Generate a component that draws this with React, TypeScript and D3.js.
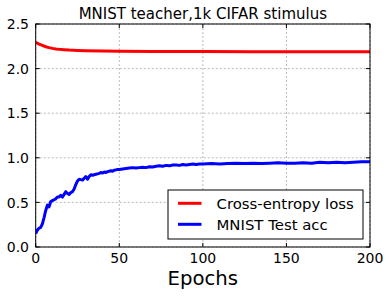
import React from "react";
import * as d3 from "d3";

const title = "MNIST teacher,1k CIFAR stimulus";
const xLabel = "Epochs";
const xTicks = [0, 50, 100, 150, 200];
const yTicks = [0.0, 0.5, 1.0, 1.5, 2.0, 2.5];
const seriesNames = ["Cross-entropy loss", "MNIST Test acc"];
const seriesColors = ["#ff0000", "#0000ff"];

const lossEpochs = [0, 2, 4, 6, 8, 10, 12, 14, 17, 20, 25, 30, 40, 50, 70, 100, 130, 160, 200];
const lossValues = [2.295, 2.275, 2.26, 2.245, 2.235, 2.227, 2.22, 2.216, 2.212, 2.208, 2.204, 2.201, 2.197, 2.195, 2.193, 2.191, 2.19, 2.189, 2.188];

const accEpochs = [
  0, 1, 2, 3, 4, 5, 6, 7, 8, 9, 10, 11, 12, 13, 14, 15, 16, 17, 18, 19, 20, 21, 22, 23, 24, 25, 26, 27, 28, 29,
  30, 31, 32, 33, 34, 35, 36, 37, 38, 39, 40, 41, 42, 43, 44, 45, 46, 47, 48, 49, 50, 52, 54, 56, 58, 60, 62, 64,
  66, 68, 70, 72, 74, 76, 78, 80, 82, 84, 86, 88, 90, 92, 94, 96, 98, 100, 105, 110, 115, 120, 125, 130, 135, 140,
  145, 150, 155, 160, 165, 170, 175, 180, 185, 190, 195, 200,
];
const accValues = [
  0.15, 0.19, 0.21, 0.22, 0.26, 0.33, 0.41, 0.47, 0.45, 0.51, 0.52, 0.53, 0.54, 0.56, 0.56, 0.58, 0.56, 0.59, 0.62, 0.6,
  0.59, 0.61, 0.62, 0.65, 0.7, 0.74, 0.76, 0.755, 0.75, 0.77, 0.79, 0.76, 0.79, 0.81, 0.805, 0.81, 0.815, 0.82, 0.825,
  0.835, 0.83, 0.84, 0.835, 0.845, 0.85, 0.855, 0.85, 0.86, 0.865, 0.87, 0.87, 0.875, 0.88, 0.885, 0.89, 0.885, 0.89,
  0.895, 0.89, 0.9, 0.897, 0.905, 0.91, 0.905, 0.915, 0.91, 0.92, 0.92, 0.915, 0.925, 0.92, 0.925, 0.93, 0.925, 0.93,
  0.93, 0.935, 0.93, 0.935, 0.94, 0.935, 0.94, 0.935, 0.94, 0.945, 0.94, 0.94, 0.945, 0.94, 0.95, 0.945, 0.95, 0.945,
  0.95, 0.955, 0.955,
];

const W = 391;
const H = 297;
const m = { left: 35.7, right: 370, top: 24, bottom: 247 };
const font = "'DejaVu Sans', sans-serif";

export default function App() {
  const x = d3.scaleLinear().domain([0, 200]).range([m.left, m.right]);
  const y = d3.scaleLinear().domain([0, 2.5]).range([m.bottom, m.top]);
  const line = d3
    .line<[number, number]>()
    .x((d) => x(d[0]))
    .y((d) => y(d[1]));
  const lossPath = line(lossEpochs.map((e, i) => [e, lossValues[i]]))!;
  const accPath = line(accEpochs.map((e, i) => [e, accValues[i]]))!;
  const tl = 4;

  return (
    <svg width={W} height={H} style={{ position: "absolute", left: 0, top: 0, background: "#fff" }}>
      <rect x={0} y={0} width={W} height={H} fill="#fff" />
      <defs>
        <clipPath id="plotclip">
          <rect x={m.left} y={m.top} width={m.right - m.left} height={m.bottom - m.top} />
        </clipPath>
      </defs>
      {xTicks.map((t) => (
        <line key={"gx" + t} x1={x(t)} x2={x(t)} y1={m.top} y2={m.bottom} stroke="#a8a8a8" strokeWidth={0.8} strokeDasharray="2,2" />
      ))}
      {yTicks.map((t) => (
        <line key={"gy" + t} x1={m.left} x2={m.right} y1={y(t)} y2={y(t)} stroke="#a8a8a8" strokeWidth={0.8} strokeDasharray="2,2" />
      ))}
      <g clipPath="url(#plotclip)">
        <path d={lossPath} fill="none" stroke={seriesColors[0]} strokeWidth={3} strokeLinejoin="round" />
        <path d={accPath} fill="none" stroke={seriesColors[1]} strokeWidth={3} strokeLinejoin="round" />
      </g>
      <rect x={m.left} y={m.top} width={m.right - m.left} height={m.bottom - m.top} fill="none" stroke="#000" strokeWidth={1} />
      {xTicks.map((t) => (
        <g key={"tx" + t}>
          <line x1={x(t)} x2={x(t)} y1={m.bottom} y2={m.bottom - tl} stroke="#000" />
          <line x1={x(t)} x2={x(t)} y1={m.top} y2={m.top + tl} stroke="#000" />
          <text x={x(t)} y={262.5} textAnchor="middle" fontFamily={font} fontSize={14}>
            {t}
          </text>
        </g>
      ))}
      {yTicks.map((t) => (
        <g key={"ty" + t}>
          <line x1={m.left} x2={m.left + tl} y1={y(t)} y2={y(t)} stroke="#000" />
          <line x1={m.right} x2={m.right - tl} y1={y(t)} y2={y(t)} stroke="#000" />
          <text x={29} y={y(t) + 5.2} textAnchor="end" fontFamily={font} fontSize={14}>
            {t.toFixed(1)}
          </text>
        </g>
      ))}
      <text x={(m.left + m.right) / 2} y={18.5} textAnchor="middle" fontFamily={font} fontSize={15}>
        {title}
      </text>
      <text x={(m.left + m.right) / 2} y={285} textAnchor="middle" fontFamily={font} fontSize={19.7}>
        {xLabel}
      </text>
      <rect x={168} y={190} width={195} height={49} fill="#fff" stroke="#000" strokeWidth={1} />
      {seriesNames.map((n, i) => (
        <g key={n}>
          <line x1={178} x2={201.5} y1={203.3 + i * 21} y2={203.3 + i * 21} stroke={seriesColors[i]} strokeWidth={3} />
          <text x={216.5} y={203.3 + i * 21 + 5.3} fontFamily={font} fontSize={14.9}>
            {n}
          </text>
        </g>
      ))}
    </svg>
  );
}
